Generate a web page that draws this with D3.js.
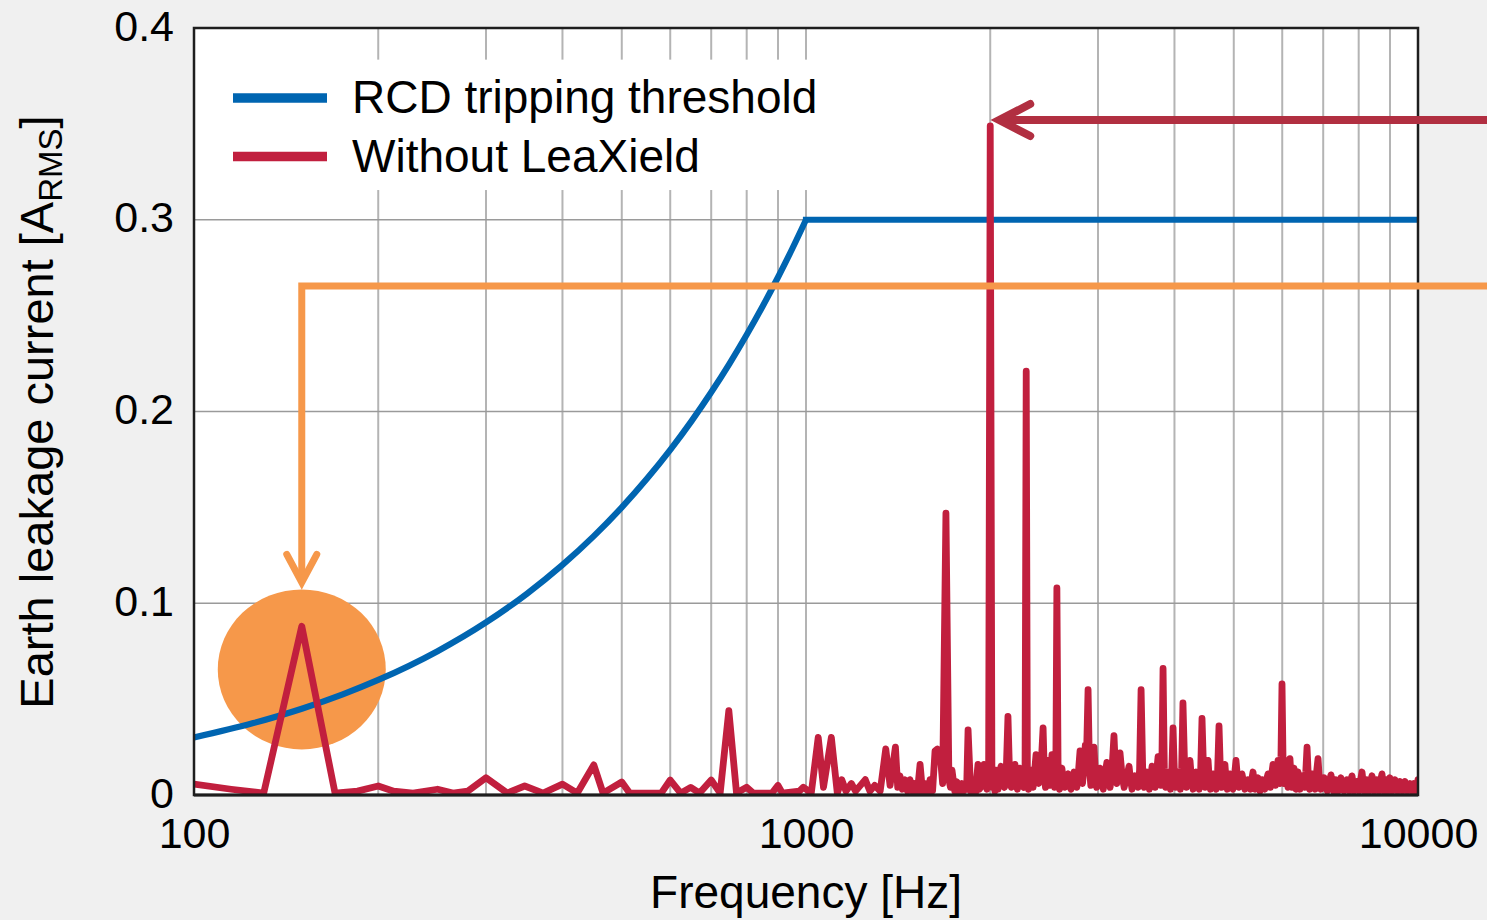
<!DOCTYPE html>
<html>
<head>
<meta charset="utf-8">
<script src="https://cdn.jsdelivr.net/npm/d3@7"></script>
<style>
  html, body { margin: 0; padding: 0; background: #f0f0f0; }
  svg { display: block; font-family: "Liberation Sans", Arial, Helvetica, sans-serif; }
</style>
</head>
<body>
<svg id="chart" width="1487" height="920"></svg>
<script>
// ---------- DATA ----------
const xTickValues = [100, 1000, 10000];
const xTickLabels = ["100", "1000", "10000"];
const yTickValues = [0, 0.1, 0.2, 0.3, 0.4];
const yTickLabels = ["0", "0.1", "0.2", "0.3", "0.4"];
const xGridValues = [200,300,400,500,600,700,800,900,1000,2000,3000,4000,5000,6000,7000,8000,9000];
const yGridValues = [0.1, 0.2, 0.3];

const seriesNames = ["RCD tripping threshold", "Without LeaXield"];

// RCD tripping threshold [Hz, A]
const thresholdData = [
  [100,0.030],[125,0.0375],[150,0.045],[175,0.0525],[200,0.060],[250,0.075],[300,0.090],
  [350,0.105],[400,0.120],[450,0.135],[500,0.150],[550,0.165],[600,0.180],[650,0.195],
  [700,0.210],[750,0.225],[800,0.240],[850,0.255],[900,0.270],[950,0.285],[1000,0.300],
  [10000,0.300]
];

// Earth leakage current without LeaXield [Hz, A]
const leakageData = [
  [100,0.0057],[115,0.003],[130,0.001],[150,0.088],[170,0.001],[185,0.002],[200,0.0047],
  [212,0.002],[228,0.001],[250,0.003],[265,0.001],[280,0.002],[300,0.009],[325,0.001],
  [347,0.0047],[372,0.001],[400,0.0057],[423,0.001],[450,0.0157],[466,0.001],[500,0.0068],
  [515,0.001],[580,0.001],[600,0.0078],[624,0.001],[648,0.004],[670,0.001],[700,0.0078],
  [724,0.001],[748,0.044],[770,0.001],[800,0.004],[820,0.001],[880,0.001],[900,0.005],
  [915,0.001],[975,0.002],[990,0.004],[1020,0.001],[1047,0.030],[1068,0.004],[1100,0.030],
  [1125,0.001],[1144,0.008],[1162,0.002],[1186,0.006],[1205,0.002],[1250,0.008],[1272,0.002],
  [1295,0.005],[1322,0.002],[1350,0.024],[1372,0.005],[1400,0.025],[1412,0.004],[1424,0.010],
  [1437,0.003],[1451,0.008],[1465,0.002],[1479,0.008],[1493,0.002],[1507,0.006],[1520,0.001],
  [1536,0.016],[1550,0.002],[1565,0.006],[1580,0.001],[1595,0.008],[1610,0.002],[1625,0.023],
  [1640,0.024],[1656,0.022],[1672,0.006],[1693,0.147],[1712,0.008],[1722,0.004],[1732,0.013],
  [1750,0.002],[1761,0.007],[1772,0.006],[1785,0.001],[1798,0.006],[1810,0.002],[1820,0.005],
  [1830,0.003],[1840,0.034],[1858,0.002],[1866,0.007],[1875,0.006],[1884,0.002],[1892,0.001],
  [1900,0.008],[1910,0.016],[1920,0.003],[1930,0.004],[1942,0.009],[1954,0.016],[1965,0.006],
  [1975,0.003],[1988,0.015],[2000,0.349],[2013,0.004],[2028,0.010],[2036,0.002],[2044,0.013],
  [2052,0.006],[2060,0.003],[2070,0.011],[2083,0.015],[2096,0.005],[2110,0.004],[2124,0.012],
  [2138,0.041],[2152,0.008],[2165,0.004],[2180,0.011],[2195,0.016],[2205,0.006],[2215,0.003],
  [2226,0.009],[2237,0.014],[2252,0.005],[2268,0.004],[2280,0.014],[2290,0.221],[2300,0.012],
  [2310,0.003],[2320,0.009],[2331,0.013],[2340,0.006],[2350,0.004],[2363,0.012],[2376,0.021],
  [2388,0.009],[2400,0.006],[2420,0.013],[2440,0.035],[2452,0.010],[2462,0.004],[2474,0.011],
  [2486,0.018],[2495,0.009],[2505,0.005],[2514,0.012],[2523,0.021],[2535,0.010],[2548,0.004],
  [2560,0.014],[2570,0.108],[2582,0.011],[2595,0.003],[2607,0.009],[2619,0.014],[2635,0.007],
  [2650,0.004],[2665,0.010],[2680,0.011],[2695,0.005],[2710,0.003],[2725,0.008],[2741,0.012],
  [2755,0.006],[2770,0.004],[2787,0.012],[2804,0.023],[2817,0.012],[2830,0.006],[2845,0.014],
  [2860,0.026],[2875,0.024],[2890,0.055],[2905,0.014],[2920,0.005],[2938,0.013],[2955,0.025],
  [2970,0.012],[2985,0.004],[3003,0.010],[3022,0.014],[3040,0.007],[3060,0.003],[3080,0.011],
  [3102,0.017],[3120,0.009],[3140,0.004],[3162,0.013],[3186,0.031],[3203,0.014],[3220,0.006],
  [3240,0.013],[3259,0.022],[3285,0.010],[3310,0.004],[3340,0.009],[3372,0.015],[3390,0.008],
  [3410,0.003],[3430,0.008],[3449,0.010],[3470,0.007],[3490,0.004],[3508,0.013],[3528,0.055],
  [3550,0.012],[3570,0.004],[3590,0.009],[3608,0.012],[3625,0.007],[3640,0.003],[3660,0.010],
  [3677,0.015],[3700,0.009],[3720,0.004],[3740,0.012],[3761,0.020],[3780,0.012],[3800,0.005],
  [3815,0.016],[3832,0.066],[3850,0.014],[3870,0.004],[3888,0.009],[3905,0.012],[3922,0.007],
  [3940,0.003],[3960,0.012],[3979,0.035],[4000,0.010],[4020,0.004],[4038,0.009],[4055,0.012],
  [4072,0.007],[4090,0.003],[4110,0.014],[4130,0.048],[4158,0.012],[4185,0.004],[4213,0.011],
  [4241,0.018],[4265,0.008],[4290,0.003],[4315,0.009],[4339,0.012],[4365,0.007],[4390,0.003],
  [4414,0.012],[4437,0.040],[4463,0.012],[4490,0.004],[4515,0.012],[4539,0.018],[4560,0.008],
  [4580,0.003],[4602,0.008],[4625,0.011],[4652,0.006],[4680,0.003],[4705,0.012],[4730,0.036],
  [4755,0.012],[4780,0.004],[4808,0.010],[4836,0.016],[4858,0.008],[4880,0.003],[4905,0.008],
  [4929,0.011],[4957,0.006],[4985,0.003],[5013,0.010],[5042,0.018],[5071,0.009],[5100,0.004],
  [5128,0.008],[5157,0.011],[5186,0.007],[5215,0.003],[5245,0.006],[5275,0.008],[5300,0.006],
  [5325,0.003],[5350,0.008],[5375,0.012],[5400,0.007],[5425,0.003],[5450,0.006],[5477,0.009],
  [5500,0.006],[5520,0.002],[5540,0.006],[5560,0.008],[5590,0.006],[5620,0.003],[5655,0.008],
  [5688,0.011],[5715,0.008],[5740,0.004],[5768,0.011],[5796,0.016],[5823,0.010],[5850,0.005],
  [5878,0.013],[5906,0.018],[5928,0.012],[5950,0.006],[5972,0.020],[5995,0.058],[6018,0.018],
  [6040,0.006],[6062,0.013],[6085,0.018],[6108,0.010],[6130,0.004],[6154,0.012],[6177,0.019],
  [6200,0.010],[6220,0.004],[6245,0.010],[6271,0.014],[6295,0.008],[6320,0.003],[6343,0.008],
  [6367,0.012],[6390,0.007],[6415,0.003],[6440,0.007],[6464,0.010],[6495,0.007],[6525,0.004],
  [6556,0.012],[6587,0.025],[6618,0.010],[6650,0.003],[6680,0.008],[6712,0.011],[6750,0.007],
  [6790,0.003],[6828,0.012],[6865,0.019],[6900,0.008],[6940,0.003],[6980,0.007],[7021,0.009],
  [7065,0.006],[7110,0.002],[7160,0.007],[7208,0.0105],[7245,0.006],[7280,0.002],[7312,0.006],
  [7345,0.008],[7378,0.005],[7410,0.002],[7445,0.006],[7482,0.009],[7525,0.005],[7570,0.002],
  [7612,0.006],[7656,0.008],[7693,0.005],[7730,0.002],[7765,0.007],[7801,0.010],[7835,0.006],
  [7870,0.002],[7910,0.005],[7948,0.007],[7985,0.005],[8020,0.002],[8060,0.008],[8100,0.012],
  [8140,0.006],[8180,0.002],[8216,0.006],[8253,0.008],[8290,0.005],[8330,0.002],[8370,0.007],
  [8410,0.010],[8450,0.006],[8490,0.002],[8530,0.006],[8570,0.008],[8610,0.005],[8650,0.002],
  [8690,0.008],[8733,0.011],[8766,0.006],[8800,0.002],[8832,0.006],[8865,0.008],[8898,0.005],
  [8930,0.002],[8965,0.006],[8999,0.009],[9042,0.005],[9085,0.002],[9128,0.006],[9171,0.008],
  [9215,0.005],[9260,0.002],[9303,0.005],[9346,0.007],[9390,0.004],[9435,0.002],[9480,0.005],
  [9524,0.007],[9567,0.004],[9610,0.002],[9657,0.005],[9704,0.006],[9742,0.004],[9780,0.002],
  [9815,0.005],[9851,0.006],[9890,0.004],[9930,0.002],[9965,0.005],[10000,0.008]
];

// Annotation anchors (data space)
const highlightCenter = [150, 0.0655];   // orange circle
const orangeArrowLevel = 0.2655;         // orange bracket level
const redArrowTarget = [2000, 0.352];    // red arrow at peak

// ---------- LAYOUT ----------
const W = 1487, H = 920;
const margin = {left: 194, top: 28, right: W - 1418, bottom: H - 795};
const pw = W - margin.left - margin.right;
const ph = H - margin.top - margin.bottom;

const colors = {
  blue: "#0065b1", red: "#c11f3e", orange: "#f6984a", arrowRed: "#b12f41",
  grid: "#b4b4b4", hgrid: "#9a9a9a", frame: "#1e1e1e"
};

const svg = d3.select("#chart");
svg.append("rect").attr("width", W).attr("height", H).attr("fill", "#f0f0f0");

const x = d3.scaleLog().domain([100, 10000]).range([margin.left, margin.left + pw]);
const y = d3.scaleLinear().domain([0, 0.4]).range([margin.top + ph, margin.top]);

// plot background
svg.append("rect").attr("x", margin.left).attr("y", margin.top)
  .attr("width", pw).attr("height", ph).attr("fill", "#ffffff");

// grid
const grid = svg.append("g");
grid.selectAll(".vg").data(xGridValues).join("line")
  .attr("x1", d => x(d)).attr("x2", d => x(d))
  .attr("y1", margin.top).attr("y2", margin.top + ph)
  .attr("stroke", colors.grid).attr("stroke-width", 2);
grid.selectAll(".hg").data(yGridValues).join("line")
  .attr("x1", margin.left).attr("x2", margin.left + pw)
  .attr("y1", d => y(d)).attr("y2", d => y(d))
  .attr("stroke", colors.hgrid).attr("stroke-width", 1.6);

// legend background (hides gridlines)
const legendBox = {x1: 1060, y0: 0.3835, y1: 0.3155};
svg.append("rect")
  .attr("x", margin.left + 2).attr("y", y(legendBox.y0))
  .attr("width", x(legendBox.x1) - margin.left).attr("height", y(legendBox.y1) - y(legendBox.y0))
  .attr("fill", "#ffffff");

// highlight circle
svg.append("ellipse")
  .attr("cx", x(highlightCenter[0])).attr("cy", y(highlightCenter[1]))
  .attr("rx", 84).attr("ry", 80)
  .attr("fill", colors.orange);

svg.append("clipPath").attr("id", "plotclip").append("rect")
  .attr("x", margin.left).attr("y", margin.top - 5).attr("width", pw).attr("height", ph + 5);

// threshold: rising part smooth, flat part straight
const rising = thresholdData.filter(d => d[0] <= 1000);
const flat = thresholdData.filter(d => d[0] >= 1000);
const smoothLine = d3.line().x(d => x(d[0])).y(d => y(d[1])).curve(d3.curveMonotoneX);
const straightLine = d3.line().x(d => x(d[0])).y(d => y(d[1]));

const blueG = svg.append("g").attr("clip-path", "url(#plotclip)");
blueG.append("path").attr("d", smoothLine(rising))
  .attr("fill", "none").attr("stroke", colors.blue).attr("stroke-width", 6.2)
  .attr("stroke-linecap", "butt");
blueG.append("path").attr("d", straightLine(flat))
  .attr("fill", "none").attr("stroke", colors.blue).attr("stroke-width", 6.2)
  .attr("stroke-linecap", "square");

svg.append("path")
  .attr("clip-path", "url(#plotclip)")
  .attr("d", straightLine(leakageData))
  .attr("fill", "none").attr("stroke", colors.red).attr("stroke-width", 6.8)
  .attr("stroke-linejoin", "round").attr("stroke-linecap", "round");

// frame
svg.append("rect").attr("x", margin.left).attr("y", margin.top)
  .attr("width", pw).attr("height", ph)
  .attr("fill", "none").attr("stroke", colors.frame).attr("stroke-width", 2.5);
svg.append("line").attr("x1", margin.left).attr("x2", margin.left + pw)
  .attr("y1", margin.top + ph).attr("y2", margin.top + ph)
  .attr("stroke", colors.frame).attr("stroke-width", 3.2);

// axes (labels only)
const xAxis = d3.axisBottom(x).tickValues(xTickValues)
  .tickFormat((d, i) => xTickLabels[i]).tickSize(0).tickPadding(22);
const gx = svg.append("g").attr("transform", `translate(0,${margin.top + ph})`).call(xAxis);
gx.select(".domain").remove();
gx.selectAll("text").attr("font-size", 43).attr("fill", "#000")
  .attr("font-family", "Liberation Sans, Arial, sans-serif");

const yAxis = d3.axisLeft(y).tickValues(yTickValues)
  .tickFormat((d, i) => yTickLabels[i]).tickSize(0).tickPadding(20);
const gy = svg.append("g").attr("transform", `translate(${margin.left},0)`).call(yAxis);
gy.select(".domain").remove();
gy.selectAll("text").attr("font-size", 43).attr("fill", "#000")
  .attr("font-family", "Liberation Sans, Arial, sans-serif")
  .attr("dy", "0.28em");

// axis titles
svg.append("text").attr("x", margin.left + pw / 2).attr("y", 908)
  .attr("text-anchor", "middle").attr("font-size", 46).attr("fill", "#000")
  .text("Frequency [Hz]");

const yt = svg.append("text")
  .attr("transform", `translate(53,${412}) rotate(-90)`)
  .attr("text-anchor", "middle").attr("font-size", 47).attr("fill", "#000");
yt.append("tspan").text("Earth leakage current [A");
yt.append("tspan").attr("font-size", 33).attr("dy", 9).text("RMS");
yt.append("tspan").attr("dy", -9).text("]");

// legend
const legendColors = [colors.blue, colors.red];
const legendY = [0.3635, 0.333];
const lg = svg.append("g");
seriesNames.forEach((name, i) => {
  const ly = y(legendY[i]);
  lg.append("line").attr("x1", 233).attr("x2", 327).attr("y1", ly).attr("y2", ly)
    .attr("stroke", legendColors[i]).attr("stroke-width", 9.5);
  lg.append("text").attr("x", 352).attr("y", ly + 15.5)
    .attr("font-size", 46).attr("fill", "#000").text(name);
});

// orange bracket arrow
const ox = x(highlightCenter[0]);
const oy = y(orangeArrowLevel);
const tipY = y(highlightCenter[1]) - 87;
svg.append("path")
  .attr("d", `M${ox},${tipY - 4} L${ox},${oy} L${W},${oy}`)
  .attr("fill", "none").attr("stroke", colors.orange).attr("stroke-width", 7)
  .attr("stroke-linejoin", "miter");
svg.append("path")
  .attr("d", `M${ox - 15},${tipY - 28} L${ox},${tipY} L${ox + 15},${tipY - 28}`)
  .attr("fill", "none").attr("stroke", colors.orange).attr("stroke-width", 7)
  .attr("stroke-linecap", "round").attr("stroke-linejoin", "miter");

// red arrow
const rx = x(redArrowTarget[0]) + 9;
const ry = y(redArrowTarget[1]);
svg.append("line").attr("x1", rx + 4).attr("x2", W).attr("y1", ry).attr("y2", ry)
  .attr("stroke", colors.arrowRed).attr("stroke-width", 8);
svg.append("path")
  .attr("d", `M${rx + 31},${ry - 16} L${rx},${ry} L${rx + 31},${ry + 16}`)
  .attr("fill", "none").attr("stroke", colors.arrowRed).attr("stroke-width", 8)
  .attr("stroke-linecap", "round").attr("stroke-linejoin", "miter");
</script>
</body>
</html>
